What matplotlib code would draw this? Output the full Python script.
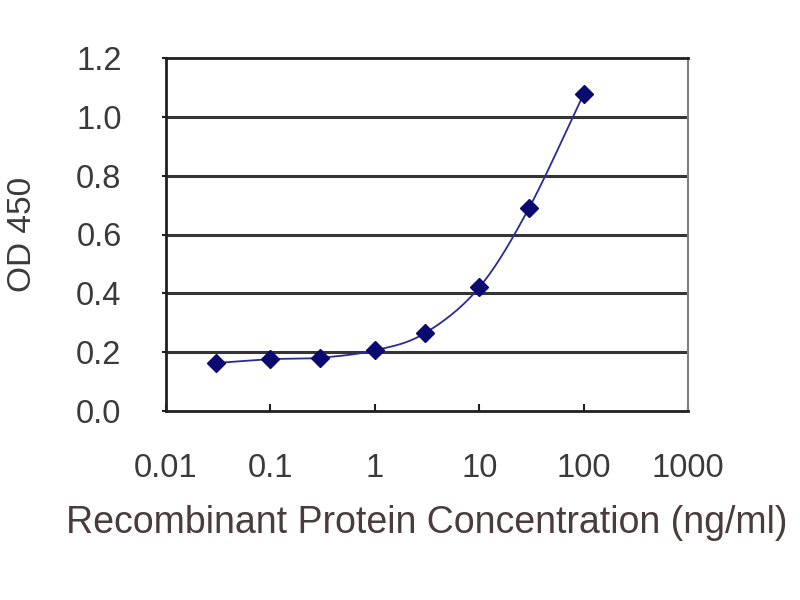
import numpy as np
import matplotlib
matplotlib.use("Agg")
import matplotlib.pyplot as plt

# Data
conc = [0.03, 0.1, 0.3, 1, 3, 10, 30, 100]
od = [0.163, 0.176, 0.181, 0.206, 0.264, 0.42, 0.69, 1.077]
x_ticks = [0.01, 0.1, 1, 10, 100, 1000]
x_tick_labels = ["0.01", "0.1", "1", "10", "100", "1000"]
y_ticks = [0.0, 0.2, 0.4, 0.6, 0.8, 1.0, 1.2]
y_tick_labels = ["0.0", "0.2", "0.4", "0.6", "0.8", "1.0", "1.2"]

plt.rcParams['font.family'] = ['Liberation Sans', 'DejaVu Sans']

fig = plt.figure(figsize=(8, 6), dpi=100)
ax = fig.add_axes([166/800, 1 - 411/600, (688-166)/800, (411-58)/600])

# smooth curve through points (Catmull-Rom in log-x space)
lx = np.log10(np.array(conc, dtype=float))
ly = np.array(od, dtype=float)
P = np.column_stack([lx, ly])
Pext = np.vstack([2*P[0]-P[1], P, 2*P[-1]-P[-2]])
cx, cy = [], []
for i in range(1, len(Pext)-2):
    p0, p1, p2, p3 = Pext[i-1], Pext[i], Pext[i+1], Pext[i+2]
    t = np.linspace(0, 1, 30)[:, None]
    seg = 0.5*((2*p1) + (-p0+p2)*t + (2*p0-5*p1+4*p2-p3)*t**2 + (-p0+3*p1-3*p2+p3)*t**3)
    cx.extend(seg[:, 0]); cy.extend(seg[:, 1])
ax.plot(10**np.array(cx), cy, color='#2a2a98', lw=1.3, zorder=3)
ax.plot(conc, od, linestyle='none', marker='D', markersize=9, color='#0a0a70', zorder=4)

ax.set_xscale('log')
ax.set_xlim(0.01, 1000)
ax.set_ylim(0, 1.2)
ax.set_xticks(x_ticks)
ax.set_xticklabels(x_tick_labels)
ax.set_yticks(y_ticks)
ax.set_yticklabels(y_tick_labels)
ax.minorticks_off()

for y in y_ticks[1:-1]:
    ax.axhline(y, color='#353535', lw=2.2, zorder=1)

for s in ['left', 'bottom', 'top']:
    ax.spines[s].set_color('#202020')
    ax.spines[s].set_linewidth(2)
ax.spines['right'].set_color('#808080')
ax.spines['right'].set_linewidth(1.5)

ax.tick_params(axis='x', direction='in', length=5, width=1.5, color='#202020',
               labelsize=23.5, labelcolor='#3a3a3a', pad=30)
ax.tick_params(axis='y', direction='out', length=3, width=1.5, color='#202020',
               labelsize=23.5, labelcolor='#3a3a3a', pad=29)

ax.set_xlabel('Recombinant Protein Concentration (ng/ml)', fontsize=27,
              color='#4a3c3c')
ax.xaxis.set_label_coords(0.5, -0.266)
ax.set_ylabel('OD 450', fontsize=24, color='#3a3a3a')
ax.yaxis.set_label_coords(-0.245, 0.5)

fig.savefig('out.png', dpi=100)
